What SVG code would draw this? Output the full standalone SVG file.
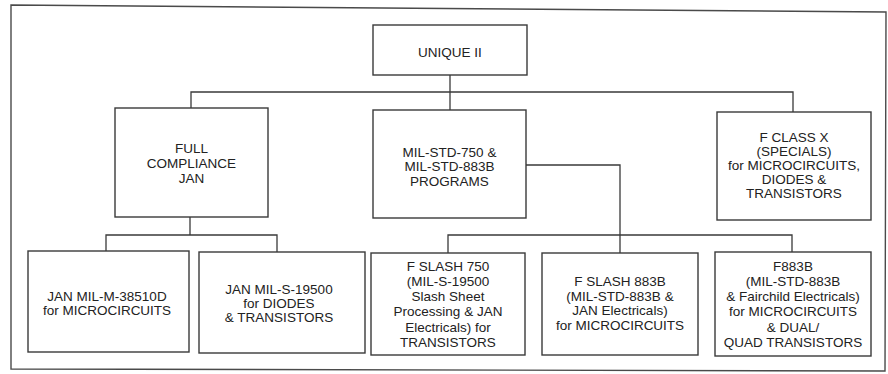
<svg xmlns="http://www.w3.org/2000/svg" width="888" height="374" viewBox="0 0 888 374">
<style>
.box{fill:#fff;stroke:#3a3a3a;stroke-width:1.4}
.frame{fill:none;stroke:#4a4a4a;stroke-width:1.4}
.wire{fill:none;stroke:#3a3a3a;stroke-width:1.3}
text{font-family:"Liberation Sans",Arial,sans-serif;font-size:13.5px;fill:#222;text-anchor:middle}
</style>
<rect width="888" height="374" fill="#fff"/>
<path class="frame" d="M11,5 L886,12 L885,371 L11,369 Z"/>
<g id="connectors">
<path class="wire" d="M450,75 V110"/>
<path class="wire" d="M191,108 V92 H793 V112"/>
<path class="wire" d="M190,217 V235"/>
<path class="wire" d="M106,251 V235 H277 V252"/>
<path class="wire" d="M526,165 H620 V253"/>
<path class="wire" d="M448,253 V235 H792 V252"/>
</g>
<g id="unique2">
<rect class="box" x="373" y="25" width="154" height="50"/>
<text x="450" y="56.5">UNIQUE II</text>
</g>
<g id="fullcompliance">
<rect class="box" x="115" y="108" width="153" height="109"/>
<text x="191.5" y="153">FULL</text>
<text x="191.5" y="168">COMPLIANCE</text>
<text x="191.5" y="183">JAN</text>
</g>
<g id="milstd">
<rect class="box" x="373" y="110" width="153" height="108"/>
<text x="449.5" y="156.5">MIL-STD-750 &amp;</text>
<text x="449.5" y="171">MIL-STD-883B</text>
<text x="449.5" y="185.5">PROGRAMS</text>
</g>
<g id="fclassx">
<rect class="box" x="717" y="112" width="154" height="108"/>
<text x="794" y="141.5">F CLASS X</text>
<text x="794" y="155.5">(SPECIALS)</text>
<text x="794" y="170">for MICROCIRCUITS,</text>
<text x="794" y="184">DIODES &amp;</text>
<text x="794" y="198">TRANSISTORS</text>
</g>
<g id="janmilm">
<rect class="box" x="28" y="251" width="161" height="101"/>
<text x="107" y="301">JAN MIL-M-38510D</text>
<text x="107" y="315">for MICROCIRCUITS</text>
</g>
<g id="janmils">
<rect class="box" x="199" y="252" width="166" height="101"/>
<text x="279" y="293.5">JAN MIL-S-19500</text>
<text x="279" y="307.5">for DIODES</text>
<text x="279" y="321.5">&amp; TRANSISTORS</text>
</g>
<g id="fslash750">
<rect class="box" x="371" y="253" width="154" height="102"/>
<text x="448" y="270.5">F SLASH 750</text>
<text x="448" y="285.8">(MIL-S-19500</text>
<text x="448" y="301.1">Slash Sheet</text>
<text x="448" y="316.4">Processing &amp; JAN</text>
<text x="448" y="331.7">Electricals) for</text>
<text x="448" y="347">TRANSISTORS</text>
</g>
<g id="fslash883b">
<rect class="box" x="542" y="253" width="156" height="102"/>
<text x="620" y="286">F SLASH 883B</text>
<text x="620" y="300.5">(MIL-STD-883B &amp;</text>
<text x="620" y="315">JAN Electricals)</text>
<text x="620" y="329.5">for MICROCIRCUITS</text>
</g>
<g id="f883b">
<rect class="box" x="715" y="252" width="156" height="104"/>
<text x="793" y="270.5">F883B</text>
<text x="793" y="285.8">(MIL-STD-883B</text>
<text x="793" y="301.1">&amp; Fairchild Electricals)</text>
<text x="793" y="316.4">for MICROCIRCUITS</text>
<text x="793" y="331.7">&amp; DUAL/</text>
<text x="793" y="347">QUAD TRANSISTORS</text>
</g>
</svg>
